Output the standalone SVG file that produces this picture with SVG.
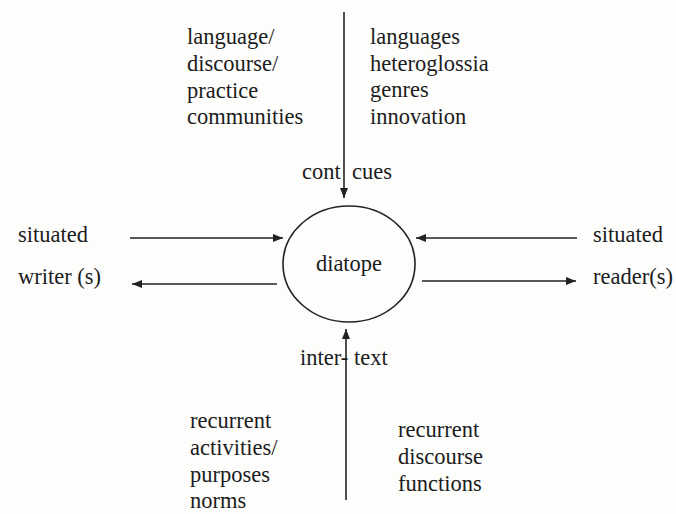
<svg xmlns="http://www.w3.org/2000/svg" width="676" height="514" viewBox="0 0 676 514">
<defs>
<marker id="ah" viewBox="0 0 10 8" refX="10" refY="4" markerWidth="10" markerHeight="8" markerUnits="userSpaceOnUse" orient="auto">
<path d="M0,0 L10,4 L0,8 Z" fill="#222"/>
</marker>
<style>
text{font-family:"Liberation Serif","Times New Roman",serif;font-size:22.5px;fill:#1c1c1c}
.ln{stroke:#222;stroke-width:1.6;fill:none}
</style>
</defs>
<rect width="676" height="514" fill="#fdfdfc"/>
<g id="connectors">
<line class="ln" x1="344" y1="12" x2="344" y2="198" marker-end="url(#ah)"/>
<line class="ln" x1="346" y1="500" x2="346" y2="329" marker-end="url(#ah)"/>
<line class="ln" x1="130" y1="238" x2="283" y2="238" marker-end="url(#ah)"/>
<line class="ln" x1="277" y1="284" x2="132" y2="284" marker-end="url(#ah)"/>
<line class="ln" x1="577" y1="238" x2="416" y2="238" marker-end="url(#ah)"/>
<line class="ln" x1="422" y1="281" x2="576" y2="281" marker-end="url(#ah)"/>
</g>
<g id="diatope">
<ellipse cx="349" cy="264" rx="66" ry="58" class="ln"/>
<text x="349" y="271" text-anchor="middle">diatope</text>
</g>
<g id="top-left">
<text x="187" y="44">language/</text>
<text x="187" y="71">discourse/</text>
<text x="187" y="98">practice</text>
<text x="187" y="124">communities</text>
</g>
<g id="top-right">
<text x="370" y="44">languages</text>
<text x="370" y="71">heteroglossia</text>
<text x="370" y="97">genres</text>
<text x="370" y="124">innovation</text>
</g>
<g id="cont-cues">
<text x="302" y="179">cont</text>
<text x="352" y="179">cues</text>
</g>
<g id="inter-text">
<text x="300" y="365">inter-</text>
<text x="354" y="365">text</text>
</g>
<g id="writer">
<text x="18" y="242">situated</text>
<text x="18" y="284">writer (s)</text>
</g>
<g id="reader">
<text x="593" y="242">situated</text>
<text x="593" y="284">reader(s)</text>
</g>
<g id="bottom-left">
<text x="190" y="428">recurrent</text>
<text x="190" y="455">activities/</text>
<text x="190" y="482">purposes</text>
<text x="190" y="508">norms</text>
</g>
<g id="bottom-right">
<text x="398" y="437">recurrent</text>
<text x="398" y="464">discourse</text>
<text x="398" y="491">functions</text>
</g>
</svg>
